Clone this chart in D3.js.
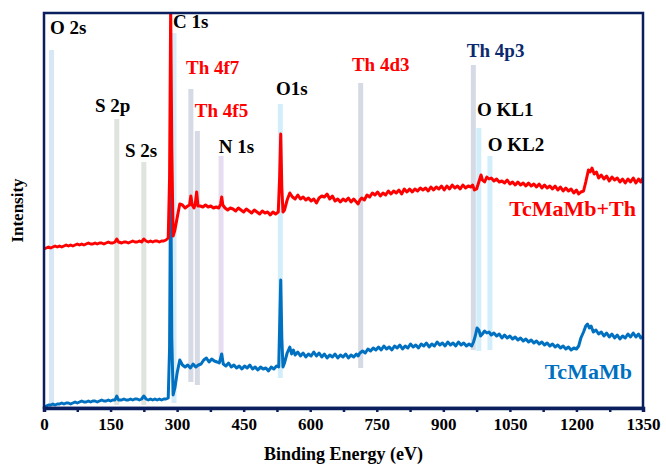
<!DOCTYPE html>
<html><head><meta charset="utf-8">
<script src="https://cdn.jsdelivr.net/npm/d3@7"></script>
<style>
html,body{margin:0;padding:0;background:#fff;}
svg{display:block;font-family:"Liberation Serif","Times New Roman",serif;font-weight:bold;}
</style></head>
<body>
<svg id="chart" width="666" height="464"></svg>
<script>
// ---- data (binding energy in eV, intensity in arbitrary units) ----
const xTicks = [0,150,300,450,600,750,900,1050,1200,1350];
const seriesNames = ["TcMaMb+Th","TcMaMb"];
const redEnergy = [0,5,10,15,20,25,30,35,40,45,50,55,60,65,70,75,80,85,90,95,100,105,110,115,120,125,130,135,140,145,150,155,160,164,168,175,180,185,190,195,200,205,210,215,220,225,230,235,240,245,250,255,260,265,270,275,280,283,285.5,288,291,295,300,306,312,318,324,328,331,334,338,341,344,347,352,358,364,370,376,382,388,394,398,400.5,403,408,414,420,426,432,438,444,450,456,462,468,474,480,486,492,498,504,510,516,522,528,531,533.5,536,538.6,542,548,554,560,566,572,578,584,590,596,602,608,614,620,626,632,638,644,650,656,662,668,674,680,686,692,698,704,708,712,716,722,728,734,740,746,752,758,764,770,776,782,788,794,800,806,812,818,824,830,836,842,848,854,860,866,872,878,884,890,896,902,908,914,920,926,932,938,944,950,956,962,966,970,975,980,985,988,993,998,1003,1008,1014,1020,1026,1032,1038,1044,1050,1056,1062,1068,1074,1080,1086,1092,1098,1104,1110,1116,1122,1128,1134,1140,1146,1152,1158,1164,1170,1176,1182,1188,1194,1200,1205,1210,1216,1221,1224,1227,1231,1235,1240,1245,1250,1256,1262,1268,1274,1280,1286,1292,1298,1304,1310,1316,1322,1328,1334,1340,1345,1350];
const redIntensity = [159,160,161,160,161,162,161,162,161,162,163,162,163,162,163,164,163,164,163,164,165,164,164,165,164,165,165,164,165,166,165,165,166,169,166,165,166,166,165,166,167,166,166,167,166,169,167,166,167,166,167,167,166,167,167,168,170,230,400,260,172,178,190,204,203,200,202,203,212,203,200,204,216,202,202,201,203,201,202,200,201,200,204,211,203,200,198,200,199,197,200,198,196,199,197,195,198,196,194,197,195,196,193,196,194,196,230,274,220,196,198,208,215,211,209,213,209,211,208,210,207,209,205,210,212,211,214,209,212,207,209,206,209,207,210,206,209,206,204,208,210,208,213,211,215,213,216,212,215,213,217,214,217,215,218,214,219,216,219,216,219,217,220,218,220,217,221,218,221,219,222,218,222,219,223,220,222,219,223,220,222,221,223,218,219,226,233,228,226,231,229,230,227,229,226,227,225,228,224,226,223,226,223,225,222,225,222,224,221,224,220,223,220,222,219,222,218,221,217,220,217,219,215,218,214,216,217,226,232,238,236,240,234,236,230,233,229,232,227,231,228,230,226,229,225,229,226,230,225,229,226,230,227,229];
const blueEnergy = [0,5,10,15,20,25,30,35,40,45,50,55,60,65,70,75,80,85,90,95,100,105,110,115,120,125,130,135,140,145,150,155,160,164,168,175,180,185,190,195,200,205,210,215,220,225,230,235,240,245,250,255,260,265,270,275,280,283,285.5,288,291,295,300,306,312,318,324,330,336,342,348,354,360,366,372,378,384,390,395,400.5,404,410,416,422,428,434,440,446,452,458,464,470,476,482,488,494,500,506,512,518,524,529,531,533.5,536,538.6,542,548,554,558,562,566,572,578,584,590,596,602,608,614,620,626,632,638,644,650,656,662,668,674,680,686,692,698,704,708,712,718,724,730,736,742,748,754,760,766,772,778,784,790,796,802,808,814,820,826,832,838,844,850,856,862,868,874,880,886,892,898,904,910,916,922,928,934,940,946,952,958,964,968,972,976,980,984,988,993,998,1003,1008,1014,1020,1026,1032,1038,1044,1050,1056,1062,1068,1074,1080,1086,1092,1098,1104,1110,1116,1122,1128,1134,1140,1146,1152,1158,1164,1170,1176,1182,1188,1194,1200,1205,1210,1216,1221,1225,1229,1233,1238,1244,1250,1256,1262,1268,1274,1280,1286,1292,1298,1304,1310,1316,1322,1328,1334,1340,1345,1350];
const blueIntensity = [1,2,3,3,4,3,4,4,5,4,5,5,4,5,6,5,6,7,6,6,7,6,7,7,6,7,8,7,7,8,7,8,8,12,8,8,9,8,8,9,8,9,9,8,9,12,9,8,9,8,9,8,9,8,9,9,10,60,250,70,13,20,35,48,43,41,43,40,44,41,43,44,48,50,46,49,47,46,45,54,44,42,45,41,43,40,42,39,42,40,43,39,41,38,41,39,40,37,41,39,42,41,80,128,70,41,45,55,61,54,58,53,56,52,55,51,54,52,56,52,55,51,54,50,53,51,54,50,53,51,54,50,53,51,54,52,55,57,55,59,57,60,58,61,58,62,59,61,58,62,60,63,59,62,60,64,61,63,60,64,62,65,61,64,62,66,63,65,62,66,63,65,62,66,63,65,62,64,62,66,72,80,78,72,74,77,75,76,73,75,72,74,70,73,70,72,69,71,68,70,67,69,66,68,65,67,64,66,63,65,62,64,61,63,60,62,59,61,58,60,59,62,70,76,82,84,80,82,76,78,74,76,72,75,71,74,70,73,69,72,70,74,71,75,71,74,70,72];

// reference lines (energy, top / bottom intensity) and their labels
const refLabels  = ["O 2s","S 2p","S 2s","C 1s","Th 4f7","Th 4f5","N 1s","O1s","Th 4d3","Th 4p3","O KL1","O KL2"];
const refEnergy  = [17,164,225,293,331,345.6,399,532.6,713.7,967.6,980,1005];
const refTop     = [358,289,246,375,319,277,252,304,325,343,280,252];
const refBottom  = [0,3,3,5,26,23,51,30,40,58,57,58];
const labelEnergy = [13.5,115,182.5,291,320,340,394,523,694,953,976,1000];
const labelLevel  = [374,296,251,380,334,291,255,313,337,351,292,257];
const refGroup   = ["o","s","s","c","th","th","n","o1","th","th4p","o1","o1"];
const seriesLabelEnergy = [1334,1325];
const seriesLabelLevel  = [192,29];

// ---- layout ----
const svg = d3.select("#chart");
const m = {left:44, right:23, top:13, bottom:56};
const W = 666, H = 464;
const x = d3.scaleLinear().domain([0,1350]).range([m.left, W - m.right]);
const y = d3.scaleLinear().domain([0,395]).range([H - m.bottom, m.top]);
const navy = "#0b1f5e";
const bandColor = {o:"#d7e7f5", s:"#dfe5de", c:"#d6ecf9", th:"#d5dae5", n:"#e6ddf0", o1:"#d3eefb", th4p:"#d5dae5"};
const labelColor = {o:"#000", s:"#000", c:"#000", th:"#ff0000", n:"#000", o1:"#000", th4p:"#0d2a6e"};

svg.append("defs").append("clipPath").attr("id","clip")
  .append("rect").attr("x",m.left).attr("y",m.top)
  .attr("width",x.range()[1]-m.left).attr("height",y.range()[0]-m.top);

// reference bands
svg.append("g").selectAll("rect").data(refEnergy).join("rect")
  .attr("x",(d)=>x(d)-2.5).attr("width",5)
  .attr("y",(d,i)=>y(refTop[i]))
  .attr("height",(d,i)=>y(refBottom[i])-y(refTop[i]))
  .attr("fill",(d,i)=>bandColor[refGroup[i]]);

// spectra
const line = d3.line().x(d=>x(d[0])).y(d=>y(d[1]));
const blueData = blueEnergy.map((e,i)=>[e,blueIntensity[i]]);
const redData = redEnergy.map((e,i)=>[e,redIntensity[i]]);
const gLines = svg.append("g").attr("clip-path","url(#clip)");
gLines.append("path").datum(blueData).attr("d",line)
  .attr("fill","none").attr("stroke","#0070c0").attr("stroke-width",3).attr("stroke-linejoin","round");
gLines.append("path").datum(redData).attr("d",line)
  .attr("fill","none").attr("stroke","#ff0000").attr("stroke-width",3).attr("stroke-linejoin","round");

// reference labels
svg.append("g").selectAll("text").data(refLabels).join("text")
  .attr("x",(d,i)=>x(labelEnergy[i])).attr("y",(d,i)=>y(labelLevel[i]))
  .attr("font-size",19).attr("fill",(d,i)=>labelColor[refGroup[i]])
  .text(d=>d);

// series labels
svg.append("g").selectAll("text").data(seriesNames).join("text")
  .attr("x",(d,i)=>x(seriesLabelEnergy[i])).attr("y",(d,i)=>y(seriesLabelLevel[i]))
  .attr("text-anchor","end").attr("font-size",22)
  .attr("fill",(d,i)=> i===0 ? "#ff0000" : "#0070c0")
  .text(d=>d);

// frame
svg.append("rect").attr("x",m.left).attr("y",m.top)
  .attr("width",x.range()[1]-m.left).attr("height",y.range()[0]-m.top)
  .attr("fill","none").attr("stroke",navy).attr("stroke-width",2.5);

// x axis
const xAxis = d3.axisBottom(x).tickValues(d3.range(0,1351,75))
  .tickFormat(d => xTicks.includes(d) ? d : "").tickSize(4).tickPadding(6);
const ga = svg.append("g").attr("transform",`translate(0,${y.range()[0]})`).call(xAxis);
ga.select(".domain").attr("stroke",navy).attr("stroke-width",3.5);
ga.selectAll(".tick line").attr("stroke",navy).attr("stroke-width",2.5);
ga.selectAll(".tick text").attr("font-size",17).attr("font-family","Liberation Serif, serif")
  .attr("font-weight","bold").attr("fill","#000");

// axis titles
svg.append("text").attr("x",(m.left + x.range()[1])/2).attr("y",460)
  .attr("text-anchor","middle").attr("font-size",18).text("Binding Energy (eV)");
svg.append("text").attr("transform",`translate(23,${(m.top+y.range()[0])/2}) rotate(-90)`)
  .attr("text-anchor","middle").attr("font-size",17).text("Intensity");
</script>
</body></html>
